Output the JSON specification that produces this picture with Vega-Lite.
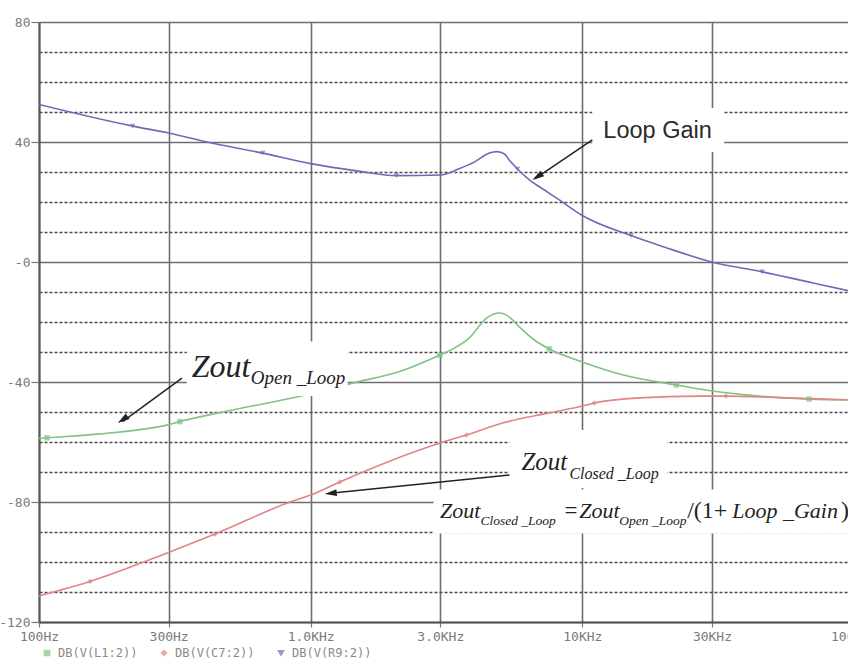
{
  "$schema": "https://vega.github.io/schema/vega-lite/v6.json",
  "width": 815,
  "height": 600,
  "autosize": {"type": "none"},
  "padding": {"left": 39, "top": 22, "right": -6, "bottom": 38},
  "background": "white",
  "config": {"view": {"stroke": null}},
  "datasets": {
    "curves": [
      {"series": "DB(V(R9:2))", "f": 100, "db": 52.5, "m": 0},
      {"series": "DB(V(R9:2))", "f": 221, "db": 45.3, "m": 1},
      {"series": "DB(V(R9:2))", "f": 300, "db": 43.0, "m": 0},
      {"series": "DB(V(R9:2))", "f": 415, "db": 40.0, "m": 0},
      {"series": "DB(V(R9:2))", "f": 666, "db": 36.3, "m": 1},
      {"series": "DB(V(R9:2))", "f": 1000, "db": 32.8, "m": 0},
      {"series": "DB(V(R9:2))", "f": 1500, "db": 30.3, "m": 0},
      {"series": "DB(V(R9:2))", "f": 2070, "db": 28.8, "m": 1},
      {"series": "DB(V(R9:2))", "f": 3000, "db": 29.0, "m": 0},
      {"series": "DB(V(R9:2))", "f": 3500, "db": 31.0, "m": 0},
      {"series": "DB(V(R9:2))", "f": 4000, "db": 33.3, "m": 0},
      {"series": "DB(V(R9:2))", "f": 4550, "db": 36.3, "m": 0},
      {"series": "DB(V(R9:2))", "f": 4850, "db": 36.8, "m": 0},
      {"series": "DB(V(R9:2))", "f": 5170, "db": 36.0, "m": 0},
      {"series": "DB(V(R9:2))", "f": 5400, "db": 33.8, "m": 0},
      {"series": "DB(V(R9:2))", "f": 5770, "db": 31.0, "m": 1},
      {"series": "DB(V(R9:2))", "f": 6400, "db": 27.3, "m": 0},
      {"series": "DB(V(R9:2))", "f": 7250, "db": 24.0, "m": 0},
      {"series": "DB(V(R9:2))", "f": 8230, "db": 20.7, "m": 0},
      {"series": "DB(V(R9:2))", "f": 10000, "db": 15.5, "m": 0},
      {"series": "DB(V(R9:2))", "f": 15100, "db": 8.8, "m": 1},
      {"series": "DB(V(R9:2))", "f": 20000, "db": 5.0, "m": 0},
      {"series": "DB(V(R9:2))", "f": 30000, "db": 0.0, "m": 0},
      {"series": "DB(V(R9:2))", "f": 45900, "db": -3.3, "m": 1},
      {"series": "DB(V(R9:2))", "f": 70000, "db": -6.9, "m": 0},
      {"series": "DB(V(R9:2))", "f": 100000, "db": -10.0, "m": 0},

      {"series": "DB(V(L1:2))", "f": 100, "db": -58.8, "m": 0},
      {"series": "DB(V(L1:2))", "f": 107, "db": -58.6, "m": 1},
      {"series": "DB(V(L1:2))", "f": 168, "db": -57.3, "m": 0},
      {"series": "DB(V(L1:2))", "f": 300, "db": -54.2, "m": 0},
      {"series": "DB(V(L1:2))", "f": 330, "db": -53.2, "m": 1},
      {"series": "DB(V(L1:2))", "f": 504, "db": -49.5, "m": 0},
      {"series": "DB(V(L1:2))", "f": 889, "db": -45.0, "m": 0},
      {"series": "DB(V(L1:2))", "f": 1450, "db": -40.2, "m": 0},
      {"series": "DB(V(L1:2))", "f": 2125, "db": -36.5, "m": 0},
      {"series": "DB(V(L1:2))", "f": 2990, "db": -31.0, "m": 1},
      {"series": "DB(V(L1:2))", "f": 3380, "db": -28.7, "m": 0},
      {"series": "DB(V(L1:2))", "f": 3840, "db": -25.3, "m": 0},
      {"series": "DB(V(L1:2))", "f": 4440, "db": -18.7, "m": 0},
      {"series": "DB(V(L1:2))", "f": 4950, "db": -17.0, "m": 0},
      {"series": "DB(V(L1:2))", "f": 5260, "db": -17.7, "m": 0},
      {"series": "DB(V(L1:2))", "f": 5870, "db": -21.7, "m": 0},
      {"series": "DB(V(L1:2))", "f": 6660, "db": -26.0, "m": 0},
      {"series": "DB(V(L1:2))", "f": 7560, "db": -29.0, "m": 1},
      {"series": "DB(V(L1:2))", "f": 10000, "db": -33.3, "m": 0},
      {"series": "DB(V(L1:2))", "f": 13700, "db": -37.3, "m": 0},
      {"series": "DB(V(L1:2))", "f": 22200, "db": -41.0, "m": 1},
      {"series": "DB(V(L1:2))", "f": 30000, "db": -43.0, "m": 0},
      {"series": "DB(V(L1:2))", "f": 44800, "db": -44.7, "m": 0},
      {"series": "DB(V(L1:2))", "f": 68300, "db": -45.7, "m": 1},
      {"series": "DB(V(L1:2))", "f": 100000, "db": -46.0, "m": 0},

      {"series": "DB(V(C7:2))", "f": 100, "db": -111.3, "m": 0},
      {"series": "DB(V(C7:2))", "f": 154, "db": -106.5, "m": 1},
      {"series": "DB(V(C7:2))", "f": 300, "db": -96.8, "m": 0},
      {"series": "DB(V(C7:2))", "f": 444, "db": -90.7, "m": 1},
      {"series": "DB(V(C7:2))", "f": 840, "db": -80.0, "m": 0},
      {"series": "DB(V(C7:2))", "f": 1000, "db": -77.7, "m": 0},
      {"series": "DB(V(C7:2))", "f": 1280, "db": -73.3, "m": 1},
      {"series": "DB(V(C7:2))", "f": 3000, "db": -60.3, "m": 0},
      {"series": "DB(V(C7:2))", "f": 3745, "db": -57.7, "m": 1},
      {"series": "DB(V(C7:2))", "f": 5080, "db": -53.7, "m": 0},
      {"series": "DB(V(C7:2))", "f": 7560, "db": -50.3, "m": 0},
      {"series": "DB(V(C7:2))", "f": 10000, "db": -48.0, "m": 0},
      {"series": "DB(V(C7:2))", "f": 11070, "db": -47.0, "m": 1},
      {"series": "DB(V(C7:2))", "f": 16200, "db": -45.3, "m": 0},
      {"series": "DB(V(C7:2))", "f": 26900, "db": -44.7, "m": 0},
      {"series": "DB(V(C7:2))", "f": 33800, "db": -44.7, "m": 1},
      {"series": "DB(V(C7:2))", "f": 53000, "db": -45.2, "m": 0},
      {"series": "DB(V(C7:2))", "f": 100000, "db": -46.0, "m": 0}
    ],
    "one": [{}]
  },
  "layer": [
    {
      "data": {"name": "curves"},
      "mark": {"type": "line", "strokeWidth": 1.6, "interpolate": "monotone", "clip": true},
      "encoding": {
        "x": {
          "field": "f", "type": "quantitative",
          "scale": {"type": "log", "domain": [100, 100000], "nice": false},
          "axis": {
            "title": null,
            "values": [100, 300, 1000, 3000, 10000, 30000, 100000],
            "tickCount": 30,
            "labelExpr": "datum.value == 100 ? '100Hz' : datum.value == 300 ? '300Hz' : datum.value == 1000 ? '1.0KHz' : datum.value == 3000 ? '3.0KHz' : datum.value == 10000 ? '10KHz' : datum.value == 30000 ? '30KHz' : '100KHz'",
            "grid": true, "gridColor": "#6e6e6e", "gridWidth": 1.6,
            "domainColor": "#555555", "domainWidth": 2,
            "tickColor": "#777777", "tickSize": 5, "tickWidth": 1.2,
            "labelFont": "DejaVu Sans Mono", "labelFontSize": 13, "labelColor": "#7a7a7a",
            "labelPadding": 3, "labelFlush": false, "labelOverlap": false
          }
        },
        "y": {
          "field": "db", "type": "quantitative",
          "scale": {"domain": [-120, 80], "nice": false},
          "axis": {
            "title": null,
            "values": [-120, -110, -100, -90, -80, -70, -60, -50, -40, -30, -20, -10, 0, 10, 20, 30, 40, 50, 60, 70, 80],
            "tickCount": 30,
            "labelExpr": "datum.value % 40 != 0 ? '' : (datum.value == 0 ? '-0' : '' + datum.value)",
            "grid": true,
            "gridColor": {"condition": {"test": "datum.value % 40 == 0", "value": "#6e6e6e"}, "value": "#4a4a4a"},
            "gridWidth": {"condition": {"test": "datum.value % 40 == 0", "value": 1.6}, "value": 1.5},
            "gridDash": {"condition": {"test": "datum.value % 40 == 0", "value": []}, "value": [3, 2]},
            "tickOpacity": {"condition": {"test": "datum.value % 40 == 0", "value": 1}, "value": 0},
            "domainColor": "#555555", "domainWidth": 2,
            "tickColor": "#777777", "tickSize": 8, "tickWidth": 1.2,
            "labelFont": "DejaVu Sans Mono", "labelFontSize": 13, "labelColor": "#7a7a7a",
            "labelPadding": 1, "labelOverlap": false
          }
        },
        "color": {
          "field": "series", "type": "nominal",
          "scale": {"domain": ["DB(V(L1:2))", "DB(V(C7:2))", "DB(V(R9:2))"], "range": ["#82c282", "#e08585", "#6c6cb6"]},
          "legend": {
            "orient": "none", "legendX": 2, "legendY": 625, "direction": "horizontal", "columns": 3,
            "title": null, "labelFont": "DejaVu Sans Mono", "labelFontSize": 12, "labelColor": "#8a8a8a",
            "symbolSize": 30, "columnPadding": 20, "labelOffset": 5, "symbolStrokeWidth": 1.2
          }
        }
      }
    },
    {
      "data": {"name": "curves"},
      "transform": [{"filter": "datum.m == 1"}],
      "mark": {"type": "point", "filled": true, "size": 30, "strokeWidth": 1.2, "clip": true},
      "encoding": {
        "x": {"field": "f", "type": "quantitative"},
        "y": {"field": "db", "type": "quantitative"},
        "color": {"field": "series", "type": "nominal"},
        "shape": {
          "field": "series", "type": "nominal",
          "scale": {"domain": ["DB(V(L1:2))", "DB(V(C7:2))", "DB(V(R9:2))"], "range": ["square", "diamond", "triangle-down"]},
          "legend": {
            "orient": "none", "legendX": 2, "legendY": 625, "direction": "horizontal", "columns": 3,
            "title": null, "labelFont": "DejaVu Sans Mono", "labelFontSize": 12, "labelColor": "#8a8a8a",
            "symbolSize": 30, "columnPadding": 20, "labelOffset": 5, "symbolStrokeWidth": 1.2
          }
        }
      }
    },

    {"data": {"name": "one"}, "mark": {"type": "rect", "fill": "white"}, "encoding": {"x": {"datum": 10886, "type": "quantitative"}, "x2": {"datum": 33270}, "y": {"datum": 51.3, "type": "quantitative"}, "y2": {"datum": 36.7}}},
    {"data": {"name": "one"}, "mark": {"type": "rect", "fill": "white"}, "encoding": {"x": {"datum": 350, "type": "quantitative"}, "x2": {"datum": 1368}, "y": {"datum": -26.5, "type": "quantitative"}, "y2": {"datum": -44.7}}},
    {"data": {"name": "one"}, "mark": {"type": "rect", "fill": "white"}, "encoding": {"x": {"datum": 5390, "type": "quantitative"}, "x2": {"datum": 20540}, "y": {"datum": -56, "type": "quantitative"}, "y2": {"datum": -75.3}}},
    {"data": {"name": "one"}, "mark": {"type": "rect", "fill": "white", "clip": true}, "encoding": {"x": {"datum": 2833, "type": "quantitative"}, "x2": {"datum": 100000}, "y": {"datum": -75.8, "type": "quantitative"}, "y2": {"datum": -90.5}}},

    {"data": {"name": "one"}, "mark": {"type": "rule", "color": "#222222", "strokeWidth": 1.5}, "encoding": {"x": {"datum": 10886, "type": "quantitative"}, "y": {"datum": 40.7, "type": "quantitative"}, "x2": {"datum": 6700}, "y2": {"datum": 27.8}}},
    {"data": {"name": "one"}, "mark": {"type": "point", "shape": "M0,0L0.55,2L-0.55,2Z", "filled": true, "color": "#222222", "opacity": 1, "size": 144, "angle": 236}, "encoding": {"x": {"datum": 6547, "type": "quantitative"}, "y": {"datum": 27.3, "type": "quantitative"}}},

    {"data": {"name": "one"}, "mark": {"type": "rule", "color": "#222222", "strokeWidth": 1.5}, "encoding": {"x": {"datum": 336, "type": "quantitative"}, "y": {"datum": -38.7, "type": "quantitative"}, "x2": {"datum": 203}, "y2": {"datum": -53.2}}},
    {"data": {"name": "one"}, "mark": {"type": "point", "shape": "M0,0L0.55,2L-0.55,2Z", "filled": true, "color": "#222222", "opacity": 1, "size": 144, "angle": 235}, "encoding": {"x": {"datum": 195, "type": "quantitative"}, "y": {"datum": -53.7, "type": "quantitative"}}},

    {"data": {"name": "one"}, "mark": {"type": "rule", "color": "#222222", "strokeWidth": 1.5}, "encoding": {"x": {"datum": 5390, "type": "quantitative"}, "y": {"datum": -71, "type": "quantitative"}, "x2": {"datum": 1180}, "y2": {"datum": -77.1}}},
    {"data": {"name": "one"}, "mark": {"type": "point", "shape": "M0,0L0.55,2L-0.55,2Z", "filled": true, "color": "#222222", "opacity": 1, "size": 144, "angle": 264}, "encoding": {"x": {"datum": 1127, "type": "quantitative"}, "y": {"datum": -77.3, "type": "quantitative"}}},

    {"data": {"name": "one"}, "mark": {"type": "text", "text": "Loop Gain", "font": "Liberation Sans", "fontSize": 23.5, "color": "#2a2a2a", "align": "left", "baseline": "alphabetic"}, "encoding": {"x": {"datum": 11950, "type": "quantitative"}, "y": {"datum": 41.3, "type": "quantitative"}}},

    {"data": {"name": "one"}, "mark": {"type": "text", "text": "Zout", "font": "Liberation Serif", "fontStyle": "italic", "fontSize": 32, "color": "#222222", "align": "left", "baseline": "alphabetic"}, "encoding": {"x": {"datum": 365, "type": "quantitative"}, "y": {"datum": -38.3, "type": "quantitative"}}},
    {"data": {"name": "one"}, "mark": {"type": "text", "text": "Open _Loop", "font": "Liberation Serif", "fontStyle": "italic", "fontSize": 19, "color": "#222222", "align": "left", "baseline": "alphabetic"}, "encoding": {"x": {"datum": 602, "type": "quantitative"}, "y": {"datum": -40.7, "type": "quantitative"}}},

    {"data": {"name": "one"}, "mark": {"type": "text", "text": "Zout", "font": "Liberation Serif", "fontStyle": "italic", "fontSize": 25, "color": "#222222", "align": "left", "baseline": "alphabetic"}, "encoding": {"x": {"datum": 5967, "type": "quantitative"}, "y": {"datum": -69.3, "type": "quantitative"}}},
    {"data": {"name": "one"}, "mark": {"type": "text", "text": "Closed _Loop", "font": "Liberation Serif", "fontStyle": "italic", "fontSize": 16, "color": "#222222", "align": "left", "baseline": "alphabetic"}, "encoding": {"x": {"datum": 8960, "type": "quantitative"}, "y": {"datum": -72.3, "type": "quantitative"}}},

    {"data": {"name": "one"}, "mark": {"type": "text", "text": "Zout", "font": "Liberation Serif", "fontStyle": "italic", "fontSize": 22, "color": "#222222", "align": "left", "baseline": "alphabetic"}, "encoding": {"x": {"datum": 2990, "type": "quantitative"}, "y": {"datum": -85.3, "type": "quantitative"}}},
    {"data": {"name": "one"}, "mark": {"type": "text", "text": "Closed _Loop", "font": "Liberation Serif", "fontStyle": "italic", "fontSize": 13.5, "color": "#222222", "align": "left", "baseline": "alphabetic"}, "encoding": {"x": {"datum": 4217, "type": "quantitative"}, "y": {"datum": -87.7, "type": "quantitative"}}},
    {"data": {"name": "one"}, "mark": {"type": "text", "text": "=", "font": "Liberation Serif", "fontSize": 23, "color": "#222222", "align": "left", "baseline": "alphabetic"}, "encoding": {"x": {"datum": 8590, "type": "quantitative"}, "y": {"datum": -85.3, "type": "quantitative"}}},
    {"data": {"name": "one"}, "mark": {"type": "text", "text": "Zout", "font": "Liberation Serif", "fontStyle": "italic", "fontSize": 22, "color": "#222222", "align": "left", "baseline": "alphabetic"}, "encoding": {"x": {"datum": 9750, "type": "quantitative"}, "y": {"datum": -85.3, "type": "quantitative"}}},
    {"data": {"name": "one"}, "mark": {"type": "text", "text": "Open _Loop", "font": "Liberation Serif", "fontStyle": "italic", "fontSize": 13.5, "color": "#222222", "align": "left", "baseline": "alphabetic"}, "encoding": {"x": {"datum": 13680, "type": "quantitative"}, "y": {"datum": -87.7, "type": "quantitative"}}},
    {"data": {"name": "one"}, "mark": {"type": "text", "text": "/(1+", "font": "Liberation Serif", "fontSize": 24, "color": "#222222", "align": "left", "baseline": "alphabetic"}, "encoding": {"x": {"datum": 24320, "type": "quantitative"}, "y": {"datum": -85.3, "type": "quantitative"}}},
    {"data": {"name": "one"}, "mark": {"type": "text", "text": "Loop _Gain", "font": "Liberation Serif", "fontStyle": "italic", "fontSize": 22, "color": "#222222", "align": "left", "baseline": "alphabetic"}, "encoding": {"x": {"datum": 35600, "type": "quantitative"}, "y": {"datum": -85.3, "type": "quantitative"}}},
    {"data": {"name": "one"}, "mark": {"type": "text", "text": ")", "font": "Liberation Serif", "fontSize": 24, "color": "#222222", "align": "left", "baseline": "alphabetic"}, "encoding": {"x": {"datum": 89500, "type": "quantitative"}, "y": {"datum": -85.3, "type": "quantitative"}}}
  ]
}
